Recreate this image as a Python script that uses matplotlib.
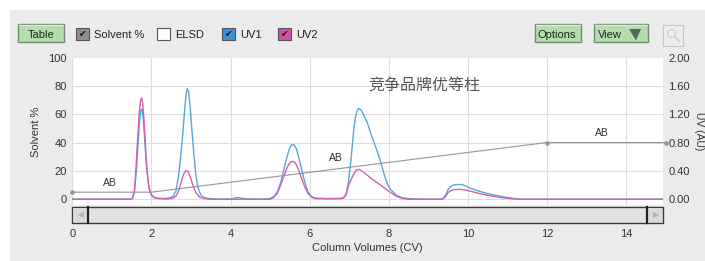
import matplotlib
matplotlib.use('Agg')
import matplotlib.pyplot as plt
from matplotlib.patches import Rectangle, Circle, Polygon

plt.rcParams['font.family'] = ['Liberation Sans', 'DejaVu Sans']

W, H = 705, 261

# 梯度 (Solvent %)
sol_x = [0.0, 2.0, 12.0, 15.0]
sol_y = [5, 5, 40, 40]

# UV1 (AU)
uv1_x = [0.0, 1.45, 1.52, 1.57, 1.62, 1.66, 1.70, 1.74, 1.77, 1.80, 1.84, 1.88, 1.93, 1.98,
         2.05, 2.15, 2.30, 2.45, 2.55, 2.62, 2.68, 2.74, 2.79, 2.84, 2.88, 2.91, 2.94, 2.98,
         3.02, 3.07, 3.12, 3.18, 3.25, 3.35, 3.50, 3.80, 4.05, 4.12, 4.20, 4.28, 4.40, 4.80,
         5.00, 5.10, 5.20, 5.28, 5.35, 5.42, 5.48, 5.54, 5.60, 5.66, 5.72, 5.80, 5.88, 5.96,
         6.05, 6.15, 6.40, 6.75, 6.85, 6.92, 6.98, 7.04, 7.08, 7.12, 7.16, 7.20, 7.25, 7.30,
         7.36, 7.46, 7.54, 7.63, 7.72, 7.80, 7.86, 7.92, 7.98, 8.05, 8.13, 8.22, 8.35, 8.55,
         8.80, 9.30, 9.38, 9.43, 9.49, 9.56, 9.63, 9.72, 9.85, 9.95, 10.08, 10.25, 10.50, 10.70,
         10.92, 11.15, 11.35, 15.0]
uv1_au = [0.0, 0.0, 0.01, 0.10, 0.40, 0.76, 1.10, 1.27, 1.26, 1.10, 0.76, 0.44, 0.20, 0.08,
          0.03, 0.016, 0.01, 0.016, 0.04, 0.12, 0.30, 0.60, 0.90, 1.26, 1.50, 1.56, 1.52, 1.30,
          1.00, 0.66, 0.36, 0.16, 0.06, 0.02, 0.006, 0.0, 0.004, 0.02, 0.024, 0.016, 0.004, 0.0,
          0.01, 0.04, 0.12, 0.26, 0.42, 0.58, 0.70, 0.766, 0.77, 0.72, 0.60, 0.42, 0.24, 0.10,
          0.04, 0.016, 0.01, 0.012, 0.024, 0.06, 0.24, 0.52, 0.76, 1.00, 1.16, 1.25, 1.28, 1.26,
          1.20, 1.08, 0.94, 0.80, 0.66, 0.52, 0.40, 0.29, 0.20, 0.14, 0.09, 0.05, 0.02, 0.006,
          0.0, 0.0, 0.01, 0.05, 0.126, 0.176, 0.20, 0.208, 0.208, 0.186, 0.152, 0.12, 0.08, 0.056,
          0.032, 0.012, 0.0, 0.0]

# UV2 (AU)
uv2_x = [0.0, 1.45, 1.52, 1.57, 1.61, 1.65, 1.69, 1.72, 1.75, 1.78, 1.81, 1.85, 1.89, 1.94,
         2.00, 2.08, 2.20, 2.40, 2.55, 2.63, 2.70, 2.76, 2.82, 2.88, 2.93, 2.99, 3.06, 3.13,
         3.22, 3.35, 3.50, 5.00, 5.08, 5.18, 5.27, 5.36, 5.44, 5.52, 5.58, 5.64, 5.72, 5.80,
         5.88, 5.96, 6.05, 6.15, 6.40, 6.80, 6.87, 6.93, 6.99, 7.06, 7.12, 7.18, 7.25, 7.33,
         7.46, 7.58, 7.71, 7.84, 7.97, 8.10, 8.22, 8.35, 8.47, 9.30, 9.38, 9.44, 9.49, 9.56,
         9.65, 9.80, 9.92, 10.08, 10.30, 10.50, 10.70, 10.92, 11.15, 11.35, 15.0]
uv2_au = [0.0, 0.0, 0.01, 0.12, 0.44, 0.84, 1.20, 1.38, 1.43, 1.36, 1.14, 0.76, 0.40, 0.16,
          0.06, 0.02, 0.008, 0.004, 0.016, 0.05, 0.14, 0.26, 0.36, 0.408, 0.39, 0.30, 0.18, 0.09,
          0.03, 0.008, 0.0, 0.0, 0.02, 0.08, 0.20, 0.34, 0.46, 0.526, 0.536, 0.51, 0.42, 0.29,
          0.17, 0.08, 0.03, 0.01, 0.006, 0.008, 0.02, 0.08, 0.20, 0.29, 0.36, 0.41, 0.422, 0.396,
          0.338, 0.284, 0.234, 0.18, 0.126, 0.076, 0.034, 0.012, 0.0, 0.0, 0.008, 0.04, 0.088, 0.12,
          0.136, 0.14, 0.134, 0.112, 0.08, 0.056, 0.036, 0.018, 0.006, 0.0, 0.0]

x_ticks = [0, 2, 4, 6, 8, 10, 12, 14]
left_ticks = [0, 20, 40, 60, 80, 100]
right_ticks = [0.0, 0.4, 0.8, 1.2, 1.6, 2.0]
ab_pos = [(0.95, 11.3), (6.66, 28.9), (13.4, 46.5)]
title = '竞争品牌优等柱'


def rect(x0, y0, x1, y1):
    # 像素坐标 -> figure 坐标
    return [x0 / W, 1 - y1 / H, (x1 - x0) / W, (y1 - y0) / H]


fig = plt.figure(figsize=(W / 100, H / 100), dpi=100)
fig.patch.set_facecolor('white')

# 背景和工具栏
bg = fig.add_axes([0, 0, 1, 1], zorder=-1)
bg.set_xlim(0, W)
bg.set_ylim(H, 0)
bg.axis('off')
bg.add_patch(Rectangle((10, 10), W - 10, H - 10, fc='#ebebeb', ec='none'))


def button(x0, x1, label, tx):
    bg.add_patch(Rectangle((x0, 24), x1 - x0, 18, fc='#b4dcad', ec='#6e8c6e', lw=1))
    bg.plot([x0 + 1, x1 - 1], [25, 25], color='#d8f0d2', lw=1)
    bg.text(tx, 33.5, label, fontsize=8, ha='center', va='center_baseline', color='#1e2a1e')


button(18, 64, 'Table', 41)
button(535, 581, 'Options', 557)
button(594, 648, 'View', 610)
bg.add_patch(Polygon([(629, 29), (641, 29), (636, 40.5)], closed=True, fc='#55665a', ec='none'))

bg.add_patch(Rectangle((663, 25), 20, 21, fc='#ececec', ec='#c6c6c6', lw=0.8))
bg.add_patch(Circle((671.5, 33.5), 4, fill=False, ec='#cdcdcd', lw=0.9))
bg.plot([674.5, 679], [36.5, 41], color='#cdcdcd', lw=1.2)


def checkbox(x0, fc, checked, label):
    bg.add_patch(Rectangle((x0, 28), 13, 12, fc=fc, ec='#555555', lw=0.8))
    if checked:
        bg.text(x0 + 6.8, 34.3, '✔', family='DejaVu Sans', fontsize=6.5,
                ha='center', va='center', color='#111111')
    bg.text(x0 + 18, 34.5, label, fontsize=8, ha='left', va='center_baseline', color='#222222')


checkbox(76, '#8d8d8d', True, 'Solvent %')
checkbox(157, 'white', False, 'ELSD')
checkbox(222, '#3e8fd6', True, 'UV1')
checkbox(278, '#cf4fa8', True, 'UV2')

# 滚动条
bg.add_patch(Rectangle((72.3, 206.7), 663 - 72.3, 16, fc='#e3e3e3', ec='#3a3a3a', lw=1))
bg.add_patch(Rectangle((73, 207.5), 15, 14.4, fc='#d9d9d9', ec='none'))
bg.add_patch(Rectangle((648, 207.5), 14.3, 14.4, fc='#d9d9d9', ec='none'))
bg.plot([88, 88], [206.7, 222.7], color='#222222', lw=1.6)
bg.plot([647, 647], [206.7, 222.7], color='#222222', lw=1.6)
bg.text(80.5, 214.7, '◀', family='DejaVu Sans', fontsize=5.5, ha='center', va='center', color='#b0b0b0')
bg.text(655.5, 214.7, '▶', family='DejaVu Sans', fontsize=5.5, ha='center', va='center', color='#b0b0b0')

# 主图
ax = fig.add_axes(rect(72.3, 57.5, 663, 204.5))
ax.set_facecolor('white')
ax.set_xlim(0, (663 - 72.3) / 39.55)
ax.set_ylim(-3.7, 100)
ax.set_xticks(x_ticks)
ax.set_yticks(left_ticks)
ax.tick_params(length=0, labelsize=8, labelcolor='#333333', pad=4)
ax.tick_params(axis='x', pad=17.5)
for s in ax.spines.values():
    s.set_visible(False)
ax.grid(True, color='#dddddd', lw=0.8)
ax.set_axisbelow(True)

ax.plot(sol_x, sol_y, color='#959595', lw=0.8, marker='o', markersize=2.3,
        markevery=[0, 2, 3], clip_on=False, zorder=2)
for px, py in ab_pos:
    ax.text(px, py, 'AB', fontsize=7.5, ha='center', va='center', color='#333333')

ax.text(8.89, 80.3, title, family=['Noto Sans CJK SC', 'DejaVu Sans'], fontsize=11.5,
        ha='center', va='center', color='#555555')

ax2 = ax.twinx()
ax2.set_ylim(-3.7 / 50, 2.0)
ax2.set_yticks(right_ticks)
ax2.set_yticklabels(['%.2f' % v for v in right_ticks])
ax2.tick_params(length=0, labelsize=8, labelcolor='#333333', pad=4)
for s in ax2.spines.values():
    s.set_visible(False)
ax2.plot(uv1_x, uv1_au, color='#56a6dc', lw=1.0, zorder=3)
ax2.plot(uv2_x, uv2_au, color='#d65fae', lw=1.0, zorder=4)

fig.text(367 / W, 1 - 248 / H, 'Column Volumes (CV)', fontsize=8, ha='center', va='center', color='#333333')
fig.text(35.7 / W, 1 - 131.7 / H, 'Solvent %', fontsize=8, rotation=90, ha='center', va='center', color='#333333')
fig.text(698.5 / W, 1 - 131 / H, 'UV (AU)', fontsize=7.5, rotation=270, ha='center', va='center', color='#333333')

fig.savefig('out.png', dpi=100)
